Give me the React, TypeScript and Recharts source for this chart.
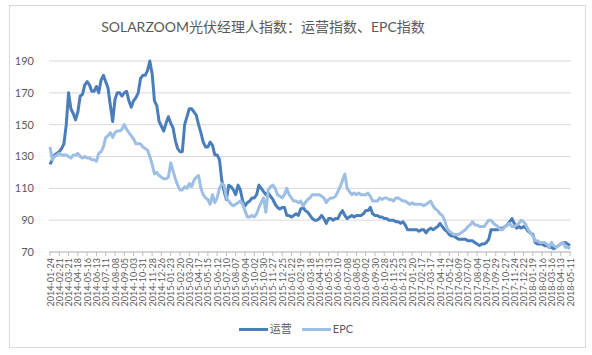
import React from "react";
import { LineChart, Line, XAxis, YAxis, CartesianGrid } from "recharts";

const title = "SOLARZOOM光伏经理人指数：运营指数、EPC指数";
const seriesNames = ["运营", "EPC"];

// x-axis tick labels, one every 4 weeks (weekly data from 2014-01-24 to 2018-05-11)
const tickLabels = [
  "2014-01-24", "2014-02-21", "2014-03-21", "2014-04-18", "2014-05-16", "2014-06-13", "2014-07-11",
  "2014-08-08", "2014-09-05", "2014-10-03", "2014-10-31", "2014-11-28", "2014-12-26",
  "2015-01-23", "2015-02-20", "2015-03-20", "2015-04-17", "2015-05-15", "2015-06-12", "2015-07-10",
  "2015-08-07", "2015-09-04", "2015-10-02", "2015-10-30", "2015-11-27", "2015-12-25",
  "2016-01-22", "2016-02-19", "2016-03-18", "2016-04-15", "2016-05-13", "2016-06-10", "2016-07-08",
  "2016-08-05", "2016-09-02", "2016-09-30", "2016-10-28", "2016-11-25", "2016-12-23",
  "2017-01-20", "2017-02-17", "2017-03-17", "2017-04-14", "2017-05-12", "2017-06-09", "2017-07-07",
  "2017-08-04", "2017-09-01", "2017-09-29", "2017-10-27", "2017-11-24", "2017-12-22",
  "2018-01-19", "2018-02-16", "2018-03-16", "2018-04-13", "2018-05-11",
];

const yTicks = [70, 90, 110, 130, 150, 170, 190];

// 运营 index, weekly
const yunying = [
  125, 128, 131, 132, 133, 135, 138, 150, 170, 160,
  157, 153, 158, 168, 169, 175, 177, 175, 171, 171,
  174, 170, 178, 181, 177, 173, 162, 152, 166, 170,
  170, 168, 170, 171, 165, 161, 165, 167, 170, 179,
  181, 181, 184, 190, 182, 165, 162, 152, 149, 146,
  151, 155, 151, 148, 140, 135, 133, 133, 150, 155,
  160, 160, 158, 156, 150, 145, 139, 136, 136, 139,
  137, 131, 131, 128, 115, 108, 103, 112, 111, 109,
  106, 112, 109, 102, 99, 101, 102, 104, 104, 106,
  112, 110, 108, 106, 107, 105, 103, 100, 98, 97,
  98, 98, 93, 93, 92, 93, 94, 93, 97, 98,
  96, 95, 93, 91, 90, 90, 91, 93, 91, 88,
  91, 91, 90, 91, 91, 94, 96, 93, 91, 92,
  93, 92, 93, 93, 93, 94, 96, 96, 98, 94,
  93, 93, 92, 92, 91, 91, 90, 90, 90, 89,
  89, 88, 89, 87, 84, 84, 84, 84, 84, 83,
  84, 84, 82, 84, 85, 84, 85, 86, 88, 86,
  84, 83, 81, 80, 80, 79, 78, 78, 78, 78,
  77, 77, 77, 76, 75, 74, 75, 75, 76, 78,
  84, 84, 84, 84, 85, 85, 86, 87, 89, 91,
  88, 85, 86, 85, 86, 85, 83, 82, 81, 76,
  75, 75, 75, 74, 74, 73, 73, 72, 73, 74,
  75, 76, 76, 75, 74,
];

// EPC index, weekly
const epc = [
  136, 128, 130, 131, 132, 131, 131, 131, 130, 129,
  131, 131, 132, 130, 129, 130, 129, 129, 128, 128,
  127, 132, 133, 136, 142, 143, 145, 142, 145, 146,
  146, 147, 150, 147, 145, 143, 141, 138, 138, 138,
  136, 135, 134, 130, 125, 119, 120, 118, 117, 116,
  116, 117, 126, 121, 116, 112, 109, 109, 111, 110,
  113, 111, 115, 117, 118, 110, 106, 104, 103, 100,
  106, 101, 104, 110, 113, 112, 104, 102, 100, 99,
  100, 101, 102, 100, 96, 92, 92, 93, 92, 94,
  98, 101, 104, 95, 109, 111, 112, 110, 106, 105,
  104, 106, 110, 106, 104, 102, 102, 101, 102, 99,
  101, 103, 104, 106, 106, 106, 106, 105, 104, 101,
  103, 104, 104, 105, 108, 111, 115, 119, 110, 108,
  106, 107, 106, 107, 106, 106, 106, 107, 105, 102,
  102, 102, 104, 103, 104, 104, 103, 103, 102, 104,
  104, 103, 102, 102, 101, 100, 101, 100, 100, 100,
  100, 99, 100, 101, 102, 99, 97, 96, 94, 93,
  90, 85, 83, 82, 81, 81, 81, 82, 83, 84,
  86, 87, 89, 87, 87, 86, 86, 86, 88, 90,
  90, 88, 87, 86, 84, 84, 86, 87, 88, 86,
  86, 87, 88, 90, 89, 87, 84, 82, 80, 77,
  77, 76, 76, 76, 75, 73, 76, 74, 73, 74,
  75, 76, 73, 73, 72,
];

const data = yunying.map((v, i) => ({ idx: i, yy: v, epc: epc[i] }));
const xTicks = tickLabels.map((_, k) => k * 4);

const DARK = "#4a7ebb";
const LIGHT = "#9dbfe4";
const FONT = "Lato, 'Noto Sans CJK SC', sans-serif";

const XTick = (props: any) => {
  const { x, y, payload } = props;
  const label = tickLabels[Math.round(payload.value / 4)] ?? "";
  return (
    <text
      x={x}
      y={y}
      transform={`rotate(-90, ${x}, ${y})`}
      textAnchor="end"
      dominantBaseline="central"
      fontSize={9}
      fill="#595959"
      fontFamily={FONT}
    >
      {label}
    </text>
  );
};

export default function App() {
  return (
    <div style={{ position: "absolute", left: 0, top: 0, width: 592, height: 355, background: "#fff" }}>
      <div
        style={{
          position: "absolute",
          left: 9,
          top: 5,
          width: 575,
          height: 341,
          border: "1px solid #d9d9d9",
        }}
      />
      <div
        style={{
          position: "absolute",
          left: 63,
          top: 17,
          width: 400,
          textAlign: "center",
          fontFamily: FONT,
          fontSize: 14,
          color: "#595959",
          lineHeight: "20px",
        }}
      >
        {title}
      </div>
      <div style={{ position: "absolute", left: 0, top: 0 }}>
        <LineChart
          width={592}
          height={355}
          data={data}
          margin={{ top: 61, right: 21, bottom: 0, left: 0 }}
        >
          <CartesianGrid horizontal vertical={false} stroke="#d9d9d9" />
          <XAxis
            dataKey="idx"
            type="number"
            domain={[0, 224]}
            ticks={xTicks}
            interval={0}
            padding={{ left: 1, right: 1 }}
            stroke="#bfbfbf"
            tickSize={4}
            tickMargin={2}
            tick={<XTick />}
            height={103}
          />
          <YAxis
            domain={[70, 190]}
            ticks={yTicks}
            interval={0}
            axisLine={false}
            tickLine={false}
            tickSize={0}
            tickMargin={15}
            width={49}
            tick={{ fontSize: 11, fill: "#595959", fontFamily: FONT }}
          />
          <Line
            type="linear"
            dataKey="yy"
            name={seriesNames[0]}
            stroke={DARK}
            strokeWidth={3}
            dot={false}
            isAnimationActive={false}
            strokeLinejoin="round"
          />
          <Line
            type="linear"
            dataKey="epc"
            name={seriesNames[1]}
            stroke={LIGHT}
            strokeWidth={3}
            dot={false}
            isAnimationActive={false}
            strokeLinejoin="round"
          />
        </LineChart>
      </div>
      <div
        style={{
          position: "absolute",
          left: 0,
          top: 320,
          width: 592,
          display: "flex",
          justifyContent: "center",
          alignItems: "center",
          fontFamily: FONT,
          fontSize: 11,
          color: "#595959",
          gap: 10,
          lineHeight: "18px",
        }}
      >
        {[DARK, LIGHT].map((c, i) => (
          <div key={i} style={{ display: "flex", alignItems: "center" }}>
            <div style={{ width: 29, height: 3, background: c, marginRight: 2 }} />
            <span>{seriesNames[i]}</span>
          </div>
        ))}
      </div>
    </div>
  );
}
